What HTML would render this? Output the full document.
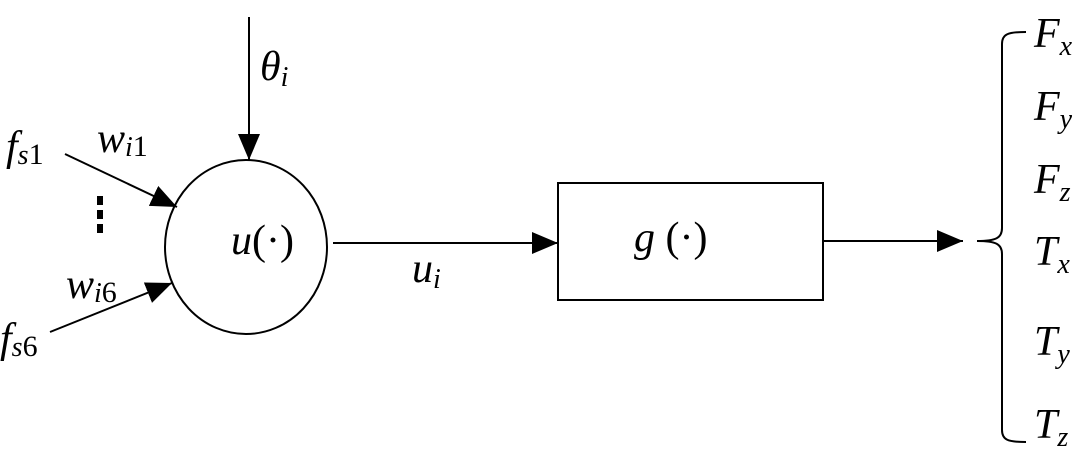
<!DOCTYPE html>
<html><head><style>
body{margin:0;background:#fff}
svg text{font-family:"Liberation Serif",serif;fill:#000}
.i{font-style:italic}
</style></head><body>
<svg width="1088" height="456" viewBox="0 0 1088 456" xmlns="http://www.w3.org/2000/svg">
<defs><marker id="a" markerWidth="26" markerHeight="22" refX="26" refY="11" orient="auto" markerUnits="userSpaceOnUse"><path d="M0,0 L26,11 L0,22 Z" fill="#000"/></marker></defs>
<g stroke="#000" stroke-width="2" fill="none">
<line x1="249" y1="17" x2="249" y2="160" marker-end="url(#a)"/>
<line x1="65" y1="154" x2="177" y2="207" marker-end="url(#a)"/>
<line x1="50" y1="332" x2="172" y2="283" marker-end="url(#a)"/>
<ellipse cx="246" cy="247" rx="81" ry="87"/>
<line x1="333" y1="243" x2="558" y2="243" marker-end="url(#a)"/>
<rect x="558" y="183" width="265" height="117"/>
<line x1="823" y1="241" x2="963" y2="241" marker-end="url(#a)"/>
<path d="M1026,32 C1008,32 1002,34 1002,44 L1002,228 C1002,238 996,241 977,241 C996,241 1002,244 1002,254 L1002,430 C1002,440 1008,442 1026,442"/>
</g>
<line x1="100" y1="196" x2="100" y2="234" stroke="#000" stroke-width="6" stroke-dasharray="9,5"/>
<g font-size="42">
<text x="260" y="80" class="i">θ<tspan font-size="28" dy="6">i</tspan></text>
<text x="6" y="160" class="i">f<tspan font-size="28" dy="4">s</tspan><tspan font-size="30" font-style="normal">1</tspan></text>
<text x="97" y="152" class="i">w<tspan font-size="28" dy="4">i</tspan><tspan font-size="30" font-style="normal">1</tspan></text>
<text x="66" y="298" class="i">w<tspan font-size="28" dy="4">i</tspan><tspan font-size="30" font-style="normal">6</tspan></text>
<text x="0" y="352" class="i">f<tspan font-size="28" dy="4">s</tspan><tspan font-size="30" font-style="normal">6</tspan></text>
<text x="231" y="254"><tspan class="i">u</tspan>(·)</text>
<text x="412" y="282" class="i">u<tspan font-size="28" dy="6">i</tspan></text>
<text x="634" y="251"><tspan class="i">g</tspan> (·)</text>
<text x="1034" y="47" class="i">F<tspan font-size="28" dy="8">x</tspan></text>
<text x="1034" y="120" class="i">F<tspan font-size="28" dy="8">y</tspan></text>
<text x="1034" y="193" class="i">F<tspan font-size="28" dy="8">z</tspan></text>
<text x="1034" y="265" class="i">T<tspan font-size="28" dy="8">x</tspan></text>
<text x="1034" y="355" class="i">T<tspan font-size="28" dy="8">y</tspan></text>
<text x="1034" y="438" class="i">T<tspan font-size="28" dy="8">z</tspan></text>
</g>
</svg>
</body></html>
